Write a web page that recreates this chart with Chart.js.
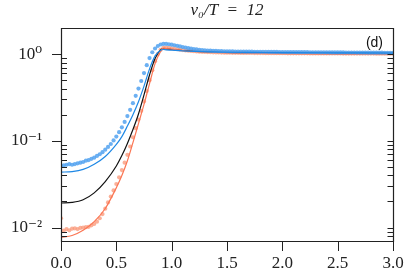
<!DOCTYPE html>
<html><head><meta charset="utf-8">
<script src="https://cdn.jsdelivr.net/npm/chart.js@4.4.1/dist/chart.umd.min.js"></script>
<style>html,body{margin:0;padding:0;background:#fff;overflow:hidden}</style>
</head><body>
<canvas id="c" width="407" height="277"></canvas>
<script>
const titleText = 'v₀/T\u2002=\u200212';
const panelLabel = '(d)';
const xTicks = [0, 0.5, 1, 1.5, 2, 2.5, 3];
const xTickLabels = ['0.0', '0.5', '1.0', '1.5', '2.0', '2.5', '3.0'];
const yMajorTicks = [0.01, 0.1, 1];
const yTickLabels = ['10⁻²', '10⁻¹', '10⁰'];
const yMinorTicks = [0.007, 0.008, 0.009, 0.02, 0.03, 0.04, 0.05, 0.06, 0.07, 0.08, 0.09, 0.2, 0.3, 0.4, 0.5, 0.6, 0.7, 0.8, 0.9, 2];

const dotX = [0, 0.025, 0.05, 0.075, 0.1, 0.125, 0.15, 0.175, 0.2, 0.225, 0.25, 0.275, 0.3, 0.325, 0.35, 0.375, 0.4, 0.425, 0.45, 0.475,
  0.5, 0.525, 0.55, 0.575, 0.6, 0.625, 0.65, 0.675, 0.7, 0.725, 0.75, 0.775, 0.8, 0.825, 0.85, 0.875, 0.9, 0.925, 0.95, 0.975,
  1, 1.025, 1.05, 1.075, 1.1, 1.125, 1.15, 1.175, 1.2, 1.225, 1.25, 1.275, 1.3, 1.325, 1.35, 1.375, 1.4, 1.425, 1.45, 1.475,
  1.5, 1.525, 1.55, 1.575, 1.6, 1.625, 1.65, 1.675, 1.7, 1.725, 1.75, 1.775, 1.8, 1.825, 1.85, 1.875, 1.9, 1.925, 1.95, 1.975,
  2, 2.025, 2.05, 2.075, 2.1, 2.125, 2.15, 2.175, 2.2, 2.225, 2.25, 2.275, 2.3, 2.325, 2.35, 2.375, 2.4, 2.425, 2.45, 2.475,
  2.5, 2.525, 2.55, 2.575, 2.6, 2.625, 2.65, 2.675, 2.7, 2.725, 2.75, 2.775, 2.8, 2.825, 2.85, 2.875, 2.9, 2.925, 2.95, 2.975, 3];

const blueDots = [0.051, 0.052, 0.053, 0.054, 0.053, 0.054, 0.055, 0.056, 0.057, 0.059, 0.060, 0.062, 0.064, 0.067, 0.070, 0.074, 0.079, 0.085, 0.092, 0.101,
  0.112, 0.126, 0.143, 0.165, 0.193, 0.228, 0.272, 0.330, 0.400, 0.490, 0.605, 0.745, 0.900, 1.050, 1.160, 1.240, 1.290, 1.310, 1.310, 1.300,
  1.285, 1.265, 1.245, 1.225, 1.205, 1.185, 1.170, 1.155, 1.142, 1.132, 1.122, 1.114, 1.107, 1.101, 1.096, 1.092, 1.088, 1.085, 1.082, 1.079,
  1.077, 1.075, 1.074, 1.072, 1.071, 1.070, 1.069, 1.068, 1.067, 1.066, 1.065, 1.064, 1.063, 1.062, 1.062, 1.061, 1.060, 1.059, 1.059, 1.058,
  1.057, 1.057, 1.056, 1.055, 1.055, 1.054, 1.054, 1.053, 1.052, 1.052, 1.051, 1.051, 1.050, 1.050, 1.049, 1.048, 1.048, 1.047, 1.047, 1.046,
  1.046, 1.045, 1.045, 1.044, 1.044, 1.043, 1.043, 1.042, 1.042, 1.041, 1.041, 1.040, 1.040, 1.039, 1.039, 1.038, 1.038, 1.037, 1.037, 1.036, 1.036];

const orangeDots = [0.0128, 0.0092, 0.0096, 0.0093, 0.0097, 0.0098, 0.0096, 0.0099, 0.0100, 0.0101, 0.0102, 0.0106, 0.0110, 0.0117, 0.0128, 0.0143, 0.0165, 0.0195, 0.0228, 0.0268,
  0.0318, 0.0380, 0.0460, 0.0560, 0.0690, 0.0860, 0.110, 0.140, 0.176, 0.222, 0.285, 0.375, 0.500, 0.650, 0.830, 1.000, 1.120, 1.180, 1.190, 1.180,
  1.165, 1.150, 1.137, 1.125, 1.114, 1.104, 1.095, 1.087, 1.080, 1.074, 1.068, 1.063, 1.059, 1.055, 1.052, 1.049, 1.046, 1.044, 1.042, 1.040,
  1.038, 1.037, 1.036, 1.035, 1.034, 1.033, 1.032, 1.031, 1.030, 1.030, 1.029, 1.028, 1.028, 1.027, 1.026, 1.026, 1.025, 1.025, 1.024, 1.024,
  1.023, 1.023, 1.022, 1.022, 1.021, 1.021, 1.021, 1.020, 1.020, 1.020, 1.019, 1.019, 1.019, 1.018, 1.018, 1.018, 1.017, 1.017, 1.017, 1.016,
  1.016, 1.016, 1.015, 1.015, 1.015, 1.015, 1.014, 1.014, 1.014, 1.014, 1.013, 1.013, 1.013, 1.013, 1.012, 1.012, 1.012, 1.012, 1.011, 1.011, 1.011];

const lineX = [0, 0.1, 0.2, 0.3, 0.4, 0.5, 0.55, 0.6, 0.65, 0.7, 0.75, 0.8, 0.85, 0.9, 0.925, 0.95, 1.0, 1.1, 1.2, 1.35, 1.5, 1.75, 2.0, 2.5, 3.0];
const blueLine   = [0.0436, 0.0442, 0.0468, 0.0537, 0.0661, 0.0912, 0.112, 0.148, 0.200, 0.282, 0.427, 0.676, 0.955, 1.11, 1.13, 1.12, 1.11, 1.09, 1.075, 1.06, 1.05, 1.045, 1.04, 1.035, 1.03];
const blackLine  = [0.0192, 0.0195, 0.0209, 0.0251, 0.0339, 0.0513, 0.0676, 0.0933, 0.135, 0.204, 0.339, 0.575, 0.89, 1.12, 1.16, 1.15, 1.13, 1.10, 1.08, 1.06, 1.045, 1.035, 1.03, 1.025, 1.02];
const orangeLine = [0.0077, 0.0081, 0.0093, 0.0117, 0.0166, 0.0288, 0.0398, 0.0589, 0.0955, 0.158, 0.263, 0.457, 0.776, 1.07, 1.17, 1.16, 1.14, 1.10, 1.075, 1.05, 1.035, 1.02, 1.01, 1.0, 0.995];

function pts(xs, ys) { return xs.map((x, i) => ({ x: x, y: ys[i] })); }

const AXIS = '#222';
const serif = "'Liberation Serif', 'DejaVu Serif', serif";
const hidden = 'rgba(0,0,0,0)';

const decor = {
  id: 'decor',
  afterDraw(chart) {
    const ctx = chart.ctx, a = chart.chartArea, x = chart.scales.x, y = chart.scales.y;
    const L = Math.round(a.left), R = Math.round(a.right), T = Math.round(a.top), B = Math.round(a.bottom);
    ctx.save();
    ctx.strokeStyle = AXIS;
    ctx.lineWidth = 1.2;
    ctx.beginPath();
    ctx.rect(L + 0.5, T + 0.5, R - L, B - T);
    ctx.stroke();
    ctx.lineWidth = 1;
    ctx.beginPath();
    yMajorTicks.forEach(v => {
      const py = Math.round(y.getPixelForValue(v)) + 0.5;
      ctx.moveTo(L - 9, py); ctx.lineTo(L + 0.5, py);
      ctx.moveTo(R + 0.5, py); ctx.lineTo(R - 5.5, py);
    });
    yMinorTicks.forEach(v => {
      const py = Math.round(y.getPixelForValue(v)) + 0.5;
      if (py < T + 1 || py > B - 1) return;
      ctx.moveTo(L + 0.5, py); ctx.lineTo(L + 6, py);
      ctx.moveTo(R + 0.5, py); ctx.lineTo(R - 5.5, py);
    });
    xTicks.forEach(v => {
      const px = Math.round(x.getPixelForValue(v)) + 0.5;
      ctx.moveTo(px, B + 0.5); ctx.lineTo(px, B + 10);
    });
    ctx.stroke();
    ctx.fillStyle = '#111';
    ctx.font = "14px 'Liberation Sans', 'DejaVu Sans', sans-serif";
    ctx.textAlign = 'right';
    ctx.textBaseline = 'middle';
    ctx.fillText(panelLabel, R - 10, T + 15);
    ctx.restore();
  }
};

new Chart(document.getElementById('c'), {
  type: 'scatter',
  data: {
    datasets: [
      { label: 'blue line', data: pts(lineX, blueLine), showLine: true, borderColor: '#1e88e5', borderWidth: 1.2, pointRadius: 0, cubicInterpolationMode: 'monotone', fill: false },
      { label: 'blue dots', data: pts(dotX, blueDots), showLine: false, pointRadius: 2.1, pointBorderWidth: 0, backgroundColor: 'rgba(82,162,240,0.85)', borderColor: hidden },
      { label: 'orange line', data: pts(lineX, orangeLine), showLine: true, borderColor: '#fb7654', borderWidth: 1.2, pointRadius: 0, cubicInterpolationMode: 'monotone', fill: false },
      { label: 'black line', data: pts(lineX, blackLine), showLine: true, borderColor: '#111111', borderWidth: 1.2, pointRadius: 0, cubicInterpolationMode: 'monotone', fill: false },
      { label: 'orange dots', data: pts(dotX, orangeDots), showLine: false, pointRadius: 2.1, pointBorderWidth: 0, backgroundColor: 'rgba(250,150,118,0.75)', borderColor: hidden }
    ]
  },
  options: {
    responsive: false,
    devicePixelRatio: 1,
    animation: false,
    layout: { padding: 0 },
    plugins: {
      legend: { display: false },
      tooltip: { enabled: false },
      title: { display: true, fullSize: false, text: titleText, color: '#222', font: { family: serif, size: 17, style: 'italic', weight: 'normal', lineHeight: 1.2 }, padding: { top: 0, bottom: 7.6 } }
    },
    scales: {
      x: {
        type: 'linear', min: 0, max: 3,
        afterBuildTicks: s => { s.ticks = xTicks.map(v => ({ value: v })); },
        afterFit: s => { s.height = 36; },
        grid: { display: true, drawOnChartArea: false, drawTicks: true, tickLength: 12, color: hidden, tickColor: hidden },
        border: { display: false },
        ticks: { autoSkip: false, maxRotation: 0, padding: 0, color: '#222', font: { family: serif, size: 17 }, callback: (v, i) => xTickLabels[i] }
      },
      y: {
        type: 'logarithmic', min: 0.007, max: 2.0,
        afterBuildTicks: s => { s.ticks = yMajorTicks.map(v => ({ value: v })); },
        afterFit: s => { s.width = 61; },
        grid: { display: true, drawOnChartArea: false, drawTicks: true, tickLength: 19, color: hidden, tickColor: hidden },
        border: { display: false },
        ticks: { autoSkip: false, padding: 0, color: '#222', font: { family: serif, size: 17 }, callback: (v, i) => yTickLabels[i] }
      },
      y2: {
        type: 'logarithmic', position: 'right', min: 0.007, max: 2.0,
        afterFit: s => { s.width = 14; },
        grid: { display: false, drawTicks: false },
        border: { display: false },
        ticks: { display: false }
      }
    }
  },
  plugins: [decor]
});
</script>
</body></html>
